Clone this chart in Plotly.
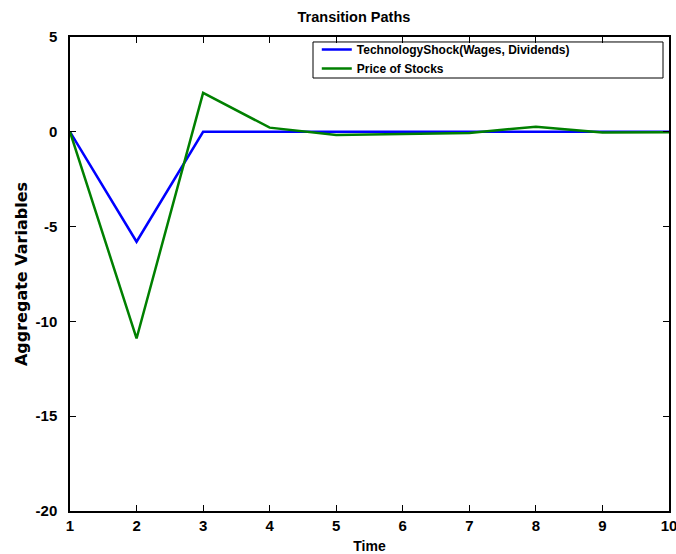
import plotly.graph_objects as go

time = [1, 2, 3, 4, 5, 6, 7, 8, 9, 10]
tech_shock = [0, -5.8, 0, 0, 0, 0, 0, 0, 0, 0]
stock_price = [0, -10.9, 2.05, 0.22, -0.17, -0.12, -0.06, 0.27, -0.04, -0.03]
y_ticks = [-20, -15, -10, -5, 0, 5]
y_tick_labels = ["-20", "-15", "-10", "-5", "0", "5"]

FONT = "Liberation Sans, Arial"

fig = go.Figure()
fig.add_trace(go.Scatter(x=time, y=tech_shock, mode="lines",
                         line=dict(color="#0000ff", width=2.5),
                         name="TechnologyShock(Wages, Dividends)"))
fig.add_trace(go.Scatter(x=time, y=stock_price, mode="lines",
                         line=dict(color="#008000", width=2.5),
                         name="Price of Stocks"))

fig.update_layout(
    width=676, height=554,
    margin=dict(l=70, r=7, t=37, b=43),
    paper_bgcolor="white", plot_bgcolor="white",
    title=dict(text="Transition Paths", x=0.474, xanchor="center", y=0.969, yanchor="middle",
               xref="paper",
               font=dict(family=FONT, size=14.5, color="black", weight="bold")),
    legend=dict(x=0.412, y=1.004, xanchor="left", yanchor="top",
                borderwidth=0, bgcolor="rgba(0,0,0,0)",
                font=dict(family=FONT, size=12, color="black", weight="bold"),
                tracegroupgap=0, itemwidth=30),
    showlegend=True,
    shapes=[dict(type="rect", xref="paper", yref="paper",
                 x0=0.4057, x1=0.99, y0=0.9135, y1=0.9895,
                 line=dict(color="black", width=1), fillcolor="rgba(0,0,0,0)",
                 layer="above")],
)
fig.update_xaxes(range=[1, 10], tickvals=time, ticks="inside", ticklen=6,
                 tickcolor="black", showline=True, linecolor="black", linewidth=1.5,
                 mirror="ticks", showgrid=False, zeroline=False, automargin=False,
                 ticklabeloverflow="allow",
                 tickfont=dict(family=FONT, size=15, color="black", weight="bold"),
                 title=dict(text="Time", standoff=10,
                            font=dict(family=FONT, size=14, color="black", weight="bold")))
fig.update_yaxes(range=[-20, 5], tickvals=y_ticks, ticktext=y_tick_labels,
                 ticks="inside", ticklen=6,
                 tickcolor="black", showline=True, linecolor="black", linewidth=1.5,
                 mirror="ticks", showgrid=False, zeroline=False, automargin=False,
                 ticklabeloverflow="allow", ticklabelstandoff=8,
                 tickfont=dict(family=FONT, size=15, color="black", weight="bold"),
                 title=dict(text="Aggregate Variables", standoff=4,
                            font=dict(family="DejaVu Sans", size=16, color="black", weight="bold")))

fig.write_html("out.html",
               config={"displayModeBar": False},
               post_script="document.body.style.margin='0';document.body.style.overflow='hidden';")
